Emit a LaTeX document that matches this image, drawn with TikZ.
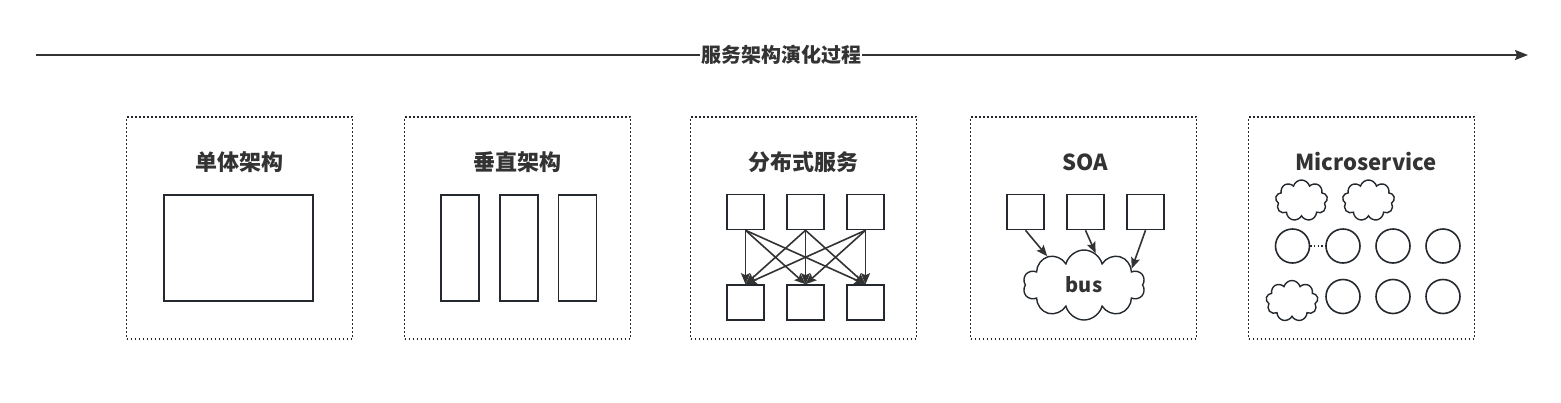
\documentclass[tikz,border=0pt]{standalone}
\usepackage{fontspec}
\setmainfont{Noto Sans CJK SC}
\usetikzlibrary{shapes.symbols, arrows.meta}
\definecolor{ink}{HTML}{23292E}
\definecolor{textgray}{HTML}{333333}
\tikzstyle{panel} = [
    rectangle,
    draw=ink,
    line width=1.7pt,
    dash pattern=on 1.8pt off 2.2pt,
    minimum width=226pt,
    minimum height=222pt
]
\tikzstyle{heading} = [
    font=\fontsize{22}{26}\selectfont\bfseries,
    text=textgray
]
\tikzstyle{box} = [
    rectangle,
    draw=ink,
    line width=1.6pt,
    minimum width=37pt,
    minimum height=35pt
]
\tikzstyle{ring} = [
    circle,
    draw=ink,
    line width=1.6pt,
    minimum size=34pt,
    inner sep=0pt
]
\tikzstyle{puff} = [
    cloud,
    cloud puffs=9,
    draw=ink,
    line width=1.4pt,
    aspect=1.3,
    minimum width=52pt,
    minimum height=41pt
]
\tikzstyle{arrow} = [
    line width=1.6pt,
    draw=textgray,
    ->,
    >={Stealth[length=11pt, width=9pt, inset=2pt]}
]

\begin{document}
\begin{tikzpicture}[x=1pt, y=-1pt]
        \useasboundingbox (0,0) rectangle (1561,402);

        % timeline
        \coordinate (tstart) at (36,55);
        \coordinate (tend) at (1528,55);
        \draw[line width=1.6pt, draw=textgray, -{Stealth[length=13pt, width=10pt, inset=2pt]}] (tstart) -- (tend);
        \node (timeline) [fill=white, inner sep=1pt, text=textgray, font=\fontsize{20}{24}\selectfont\bfseries] at (781,55) {服务架构演化过程};

        % panels
        \node (p1) [panel] at (239.5,228) {};
        \node (p2) [panel] at (517.5,228) {};
        \node (p3) [panel] at (803.5,228) {};
        \node (p4) [panel] at (1083.5,228) {};
        \node (p5) [panel] at (1361.5,228) {};

        \node (h1) [heading] at (239.5,162) {单体架构};
        \node (h2) [heading] at (517.5,162) {垂直架构};
        \node (h3) [heading] at (803.5,162) {分布式服务};
        \node (h4) [heading] at (1085,162) {SOA};
        \node (h5) [heading] at (1366,162) {Microservice};

        % monolith
        \node (mono) [box, minimum width=149pt, minimum height=106pt] at (238.5,248) {};

        % vertical
        \node (v1) [box, minimum width=38pt, minimum height=106pt] at (460,248) {};
        \node (v2) [box, minimum width=38pt, minimum height=106pt] at (519,248) {};
        \node (v3) [box, minimum width=38pt, minimum height=106pt] at (577.5,248) {};

        % distributed
        \node (d1) [box] at (745.5,212) {};
        \node (d2) [box] at (805.5,212) {};
        \node (d3) [box] at (865.5,212) {};
        \node (e1) [box] at (745.5,302.5) {};
        \node (e2) [box] at (805.5,302.5) {};
        \node (e3) [box] at (865.5,302.5) {};

        \draw[arrow] (d1.south) -- (e1.north);
        \draw[arrow] (d1.south) -- (e2.north);
        \draw[arrow] (d1.south) -- (e3.north);
        \draw[arrow] (d2.south) -- (e1.north);
        \draw[arrow] (d2.south) -- (e2.north);
        \draw[arrow] (d2.south) -- (e3.north);
        \draw[arrow] (d3.south) -- (e1.north);
        \draw[arrow] (d3.south) -- (e2.north);
        \draw[arrow] (d3.south) -- (e3.north);

        % soa
        \node (s1) [box] at (1025.5,212) {};
        \node (s2) [box] at (1085.5,212) {};
        \node (s3) [box] at (1145.5,212) {};
        \node (bus) [puff, cloud puffs=10, aspect=1.75, minimum width=122pt, minimum height=70pt, text=textgray, font=\fontsize{20}{24}\selectfont\bfseries] at (1084,285) {bus};

        \draw[arrow] (s1.south) -- (bus.142);
        \draw[arrow] (s2.south) -- (bus.70);
        \draw[arrow] (s3.south) -- (bus.19);

        % microservice
        \node (c1) [puff] at (1301.5,200.5) {};
        \node (c2) [puff] at (1368.5,200.5) {};
        \node (c3) [puff] at (1292,301) {};
        \node (r1) [ring] at (1292.5,246) {};
        \node (r2) [ring] at (1343,246) {};
        \node (r3) [ring] at (1393,246) {};
        \node (r4) [ring] at (1443,246) {};
        \node (r5) [ring] at (1343,296.5) {};
        \node (r6) [ring] at (1393,296.5) {};
        \node (r7) [ring] at (1443,296.5) {};

        \draw[draw=ink, line width=1.4pt, dash pattern=on 1.4pt off 2.2pt] (r1) -- (r2);
    \end{tikzpicture}
\end{document}
